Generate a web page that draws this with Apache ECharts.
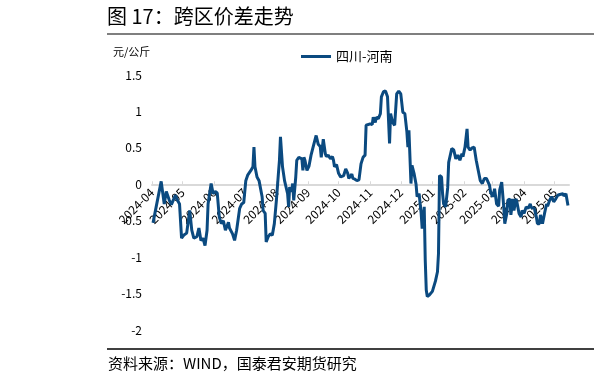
<!DOCTYPE html>
<html>
<head>
<meta charset="utf-8">
<script src="https://cdn.jsdelivr.net/npm/echarts@6/dist/echarts.min.js"></script>
<style>
html,body{margin:0;padding:0;background:#fff;}
#chart{width:594px;height:385px;}
</style>
</head>
<body>
<div id="chart"></div>
<script>
const seriesName = '四川-河南';
const titleText = '图 17：跨区价差走势';
const unitText = '元/公斤';
const sourceText = '资料来源：WIND，国泰君安期货研究';

const dates = [
'2024-04-02','2024-04-10','2024-04-13','2024-04-15','2024-04-18','2024-04-20','2024-04-24','2024-04-26','2024-04-28','2024-04-30',
'2024-05-02','2024-05-05','2024-05-08','2024-05-10','2024-05-12','2024-05-15','2024-05-17','2024-05-19','2024-05-21','2024-05-23',
'2024-05-25','2024-05-26','2024-05-29','2024-05-31','2024-06-02','2024-06-04','2024-06-06','2024-06-08','2024-06-10','2024-06-12',
'2024-06-15','2024-06-16','2024-06-19','2024-06-21','2024-06-23','2024-06-26','2024-06-28','2024-06-30','2024-07-02','2024-07-04',
'2024-07-07','2024-07-09','2024-07-10','2024-07-11','2024-07-13','2024-07-15','2024-07-18','2024-07-19','2024-07-21','2024-07-22',
'2024-07-24','2024-07-26','2024-07-28','2024-07-30','2024-08-01','2024-08-03','2024-08-04','2024-08-05','2024-08-07','2024-08-09',
'2024-08-10','2024-08-12','2024-08-13','2024-08-14','2024-08-16','2024-08-17','2024-08-18','2024-08-20','2024-08-21','2024-08-23',
'2024-08-26','2024-08-27','2024-08-28','2024-08-29','2024-08-31','2024-09-02','2024-09-04','2024-09-06','2024-09-09','2024-09-11',
'2024-09-13','2024-09-14','2024-09-16','2024-09-18','2024-09-19','2024-09-21','2024-09-23','2024-09-25','2024-09-26','2024-09-27',
'2024-09-29','2024-10-01','2024-10-03','2024-10-06','2024-10-08','2024-10-10','2024-10-11','2024-10-14','2024-10-15','2024-10-17',
'2024-10-19','2024-10-21','2024-10-23','2024-10-25','2024-10-27','2024-10-28','2024-11-01','2024-11-03','2024-11-04','2024-11-06',
'2024-11-07','2024-11-09','2024-11-11','2024-11-12','2024-11-14','2024-11-16','2024-11-18','2024-11-20','2024-11-21','2024-11-23',
'2024-11-25','2024-11-27','2024-11-29','2024-12-01','2024-12-03','2024-12-05','2024-12-07','2024-12-08','2024-12-09','2024-12-11',
'2024-12-12','2024-12-14','2024-12-16','2024-12-17','2024-12-19','2024-12-20','2024-12-21','2024-12-22','2024-12-24','2024-12-25',
'2024-12-26','2024-12-27','2024-12-29','2025-01-01','2025-01-04','2025-01-06','2025-01-07','2025-01-08','2025-01-10','2025-01-11',
'2025-01-12','2025-01-14','2025-01-16','2025-01-17','2025-01-20','2025-01-22','2025-01-24','2025-01-26','2025-01-28','2025-01-30',
'2025-01-31','2025-02-02','2025-02-04','2025-02-05','2025-02-07','2025-02-09','2025-02-11','2025-02-13','2025-02-15','2025-02-17',
'2025-02-19','2025-02-21','2025-02-23','2025-02-26','2025-02-27','2025-03-01','2025-03-02','2025-03-03','2025-03-05','2025-03-07',
'2025-03-08','2025-03-10','2025-03-12','2025-03-13','2025-03-15','2025-03-16','2025-03-18','2025-03-19','2025-03-21','2025-03-22',
'2025-03-24','2025-03-25','2025-03-27','2025-03-29','2025-03-30','2025-04-01','2025-04-03','2025-04-05','2025-04-07','2025-04-08',
'2025-04-11','2025-04-13','2025-04-14','2025-04-16','2025-04-17','2025-04-19','2025-04-21','2025-04-23','2025-04-24','2025-04-26',
'2025-04-28','2025-04-30','2025-05-02','2025-05-04','2025-05-06','2025-05-09','2025-05-10','2025-05-12','2025-05-14'
];

const values = [
-0.53,0.04,-0.27,-0.10,-0.22,-0.28,-0.15,-0.22,-0.27,-0.74,
-0.70,-0.67,-0.36,-0.63,-0.74,-0.72,-0.60,-0.77,-0.74,-0.84,
-0.63,-0.27,0.01,-0.13,-0.10,-0.12,-0.45,-0.54,-0.50,-0.63,
-0.52,-0.60,-0.68,-0.77,-0.63,-0.33,-0.27,-0.25,0.05,0.13,
0.19,0.24,0.51,0.24,0.10,0.05,-0.17,-0.36,-0.40,-0.79,
-0.72,-0.68,-0.70,-0.54,-0.22,0.15,0.33,0.65,0.24,0.05,
0.03,-0.13,-0.31,-0.04,-0.10,0.01,-0.22,0.10,0.33,0.37,
0.35,0.19,0.37,0.33,0.19,0.25,0.40,0.51,0.67,0.55,
0.52,0.37,0.62,0.42,0.38,0.40,0.35,0.38,0.33,0.24,
0.27,0.15,0.10,0.12,0.21,0.15,0.08,0.14,0.08,0.07,
0.05,0.06,0.28,0.37,0.40,0.81,0.83,0.82,0.92,0.85,
0.92,0.90,0.97,1.20,1.27,1.28,1.20,0.56,0.97,0.85,
0.81,1.24,1.28,1.24,0.99,0.97,0.72,0.51,0.74,0.01,
0.26,0.15,0.00,-0.17,-0.13,-0.27,-0.40,-0.61,-0.31,-1.04,
-1.45,-1.54,-1.52,-1.47,-1.33,-1.20,-0.95,0.12,0.10,-0.13,
-0.27,-0.31,-0.05,0.30,0.49,0.47,0.35,0.40,0.33,0.42,
0.38,0.51,0.76,0.51,0.47,0.50,0.51,0.33,0.19,0.05,
0.01,0.08,0.08,-0.01,-0.10,-0.17,-0.14,-0.06,-0.27,-0.30,
-0.08,0.03,-0.31,-0.54,-0.40,-0.22,-0.20,-0.42,-0.20,-0.36,
-0.20,-0.25,-0.40,-0.45,-0.36,-0.40,-0.31,-0.33,-0.27,-0.32,
-0.33,-0.45,-0.54,-0.54,-0.42,-0.54,-0.40,-0.27,-0.30,-0.22,
-0.17,-0.24,-0.20,-0.15,-0.14,-0.13,-0.16,-0.13,-0.29
];

const yMin = -2, yMax = 1.5, yInterval = 0.5;
const xMin = '2024-04-01', xMax = '2025-05-15';

const chart = echarts.init(document.getElementById('chart'));
const lineColor = '#0b4a80';
const font = '"Noto Sans CJK SC", "Noto Sans", sans-serif';

const gridTop = 75, gridBottom = 55, chartH = 385;
const plotH = chartH - gridTop - gridBottom;
// place the x axis where y = 0 (the category axis crosses there)
const zeroOffset = -plotH * (0 - yMin) / (yMax - yMin);

chart.setOption({
  backgroundColor: '#ffffff',
  animation: false,
  textStyle: { fontFamily: font },
  grid: { left: 152, right: 25, top: gridTop, bottom: gridBottom },
  legend: {
    left: 296, top: 45,
    icon: 'rect', itemWidth: 30, itemHeight: 3, itemGap: 8,
    textStyle: { fontSize: 13, color: '#000', fontFamily: font },
    data: [seriesName]
  },
  graphic: [
    { type: 'text', left: 107, top: 6, style: { text: titleText, fontSize: 20, fill: '#000', fontFamily: font } },
    { type: 'line', shape: { x1: 107, y1: 34, x2: 594, y2: 34 }, style: { stroke: '#7f7f7f', lineWidth: 2 } },
    { type: 'text', left: 113, top: 46, style: { text: unitText, fontSize: 11, fill: '#000', fontFamily: font } },
    { type: 'line', shape: { x1: 107, y1: 349, x2: 594, y2: 349 }, style: { stroke: '#000', lineWidth: 1.5 } },
    { type: 'text', left: 108, top: 356, style: { text: sourceText, fontSize: 15, fill: '#000', fontFamily: font } }
  ],
  xAxis: {
    type: 'time',
    position: 'bottom',
    offset: zeroOffset,
    min: xMin, max: xMax,
    splitNumber: 14,
    minInterval: 28 * 86400000,
    maxInterval: 31 * 86400000,
    axisLine: { onZero: false, lineStyle: { color: '#d9d9d9', width: 2 } },
    axisTick: { show: true, inside: true, length: 3, lineStyle: { color: '#d9d9d9' } },
    splitLine: { show: false },
    axisLabel: {
      rotate: 45, fontSize: 12, color: '#000', margin: 6,
      formatter: '{yyyy}-{MM}',
      hideOverlap: false
    }
  },
  yAxis: {
    type: 'value',
    min: yMin, max: yMax, interval: yInterval,
    axisLine: { show: false },
    axisTick: { show: false },
    splitLine: { show: false },
    axisLabel: { fontSize: 12, color: '#000', margin: 10 }
  },
  series: [{
    name: seriesName,
    type: 'line',
    showSymbol: false,
    symbol: 'none',
    lineStyle: { color: lineColor, width: 3 },
    itemStyle: { color: lineColor },
    data: dates.map((d, i) => [d, values[i]])
  }]
});
</script>
</body>
</html>
